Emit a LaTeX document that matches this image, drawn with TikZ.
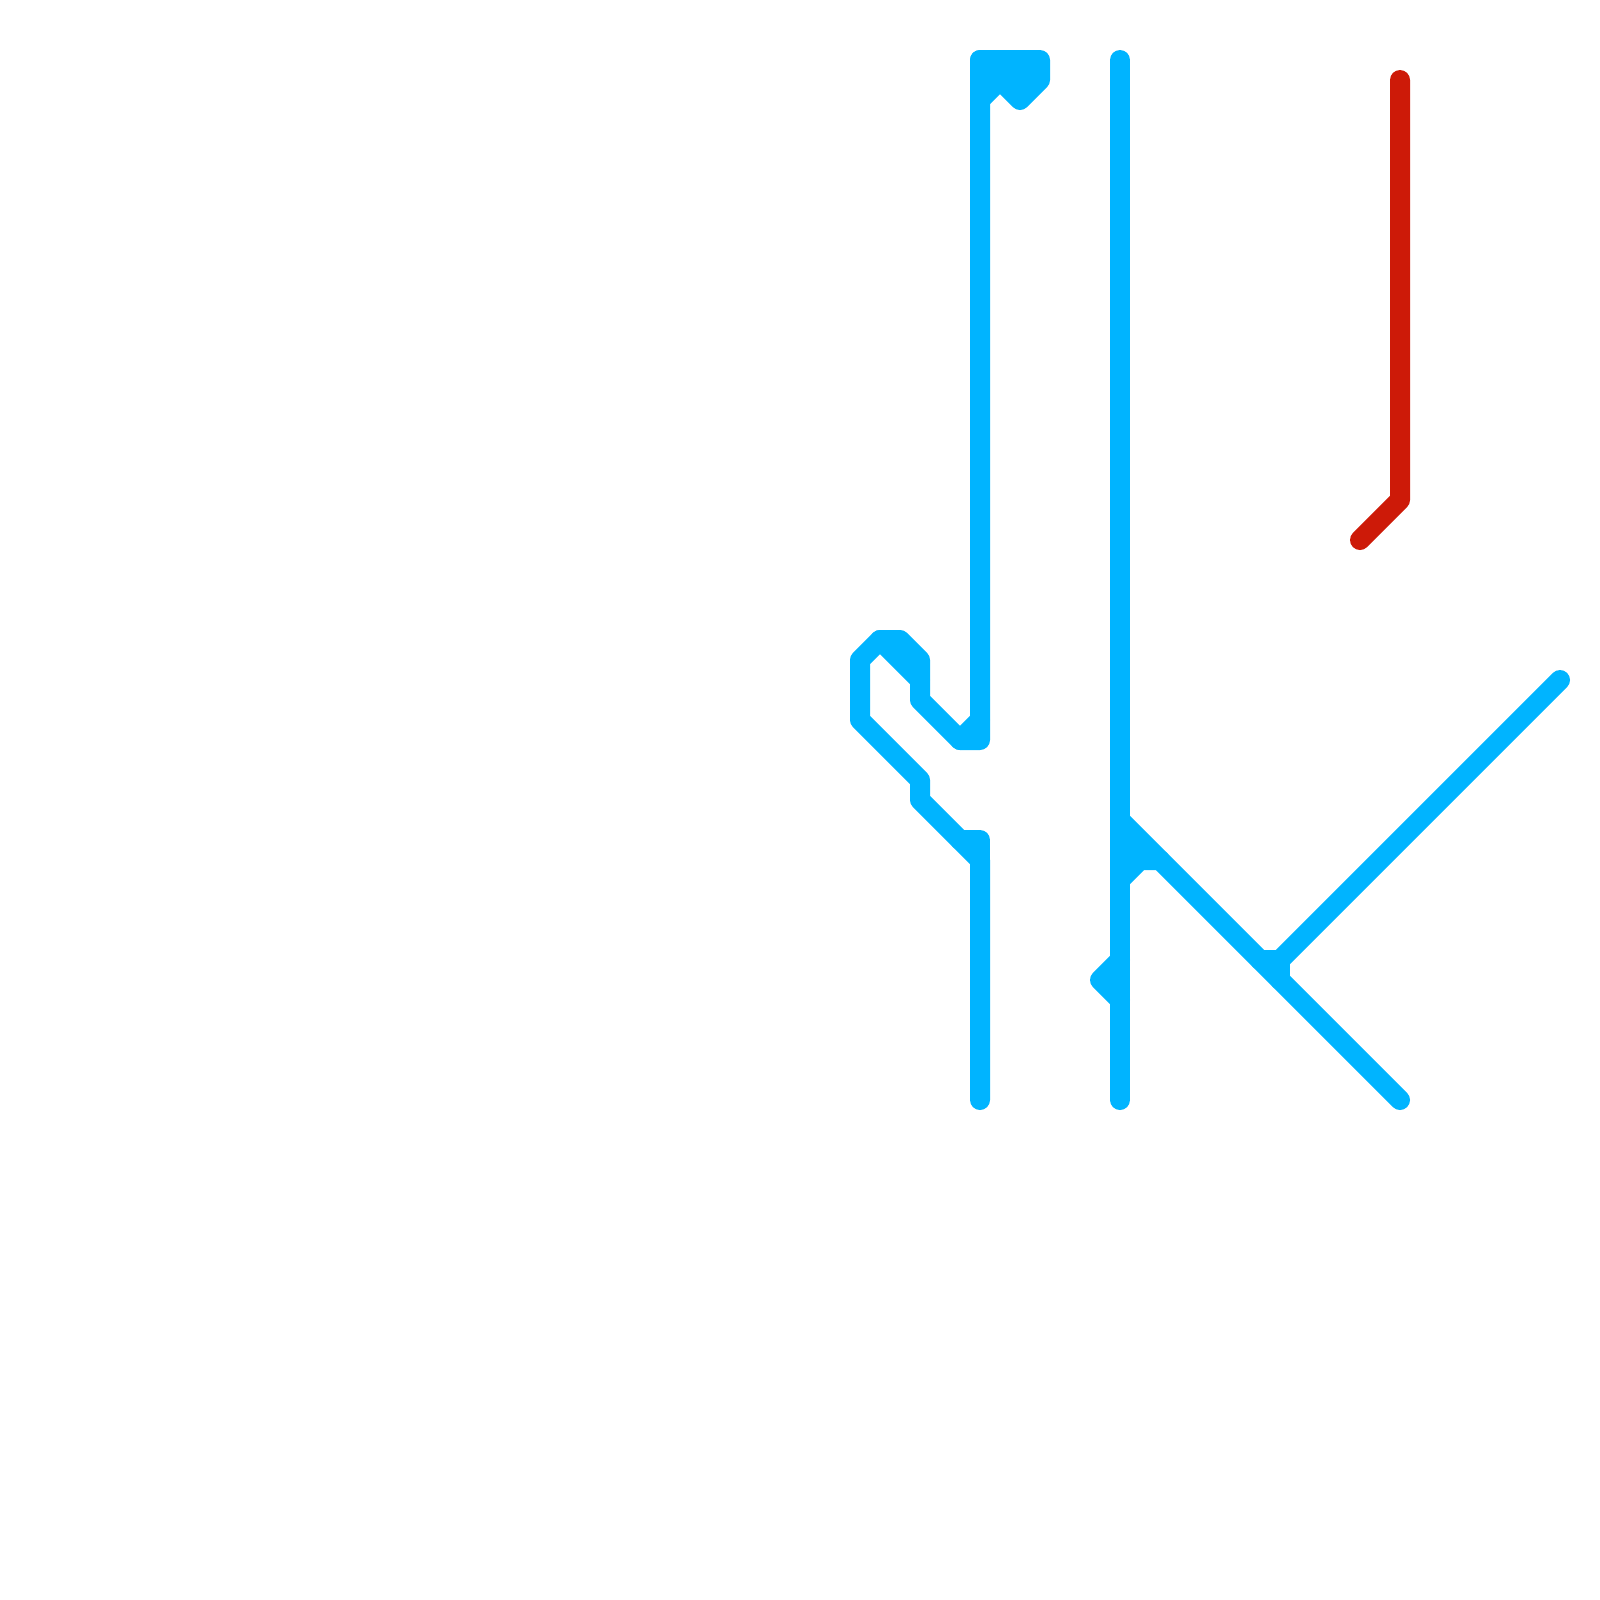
\documentclass[tikz,border=0pt]{standalone}
\usepackage{xcolor}
\definecolor{lineblue}{HTML}{00B4FF}
\definecolor{linered}{HTML}{CD1A08}
\tikzset{
  route/.style={line width=0.25cm,line cap=round,line join=round},
  blueroute/.style={route,draw=lineblue},
  redroute/.style={route,draw=linered}
}
\begin{document}
\begin{tikzpicture}[x=0.25cm,y=-0.25cm]
  \useasboundingbox (0,0) rectangle (80,80);
  \draw[blueroute,fill=lineblue] (49,5) -- (50,4) -- (51,5) -- (52,4) -- (52,3) -- (49,3) -- cycle;
  \draw[blueroute] (49,3) -- (49,37) -- (48,37) -- (46,35) -- (46,33) -- (45,32) -- (44,32) -- (43,33) -- (43,36) -- (46,39) -- (46,40) -- (49,43) -- (49,55);
  \draw[blueroute] (49,36) -- (48,37);
  \draw[blueroute] (44,32) -- (46,34);
  \draw[blueroute] (48,42) -- (49,42) -- (49,43);
  \draw[blueroute] (56,3) -- (56,55);
  \draw[blueroute] (56,41) -- (70,55);
  \fill[lineblue] (56,41) -- (58,43) -- (56,44) -- cycle;
  \draw[blueroute] (56,44) -- (57,43) -- (58,43);
  \draw[blueroute] (56,48) -- (55,49) -- (56,50);
  \draw[blueroute] (63,48) -- (64,48) -- (64,49);
  \draw[blueroute] (64,48) -- (78,34);
  \draw[redroute] (70,4) -- (70,25) -- (68,27);
\end{tikzpicture}
\end{document}
